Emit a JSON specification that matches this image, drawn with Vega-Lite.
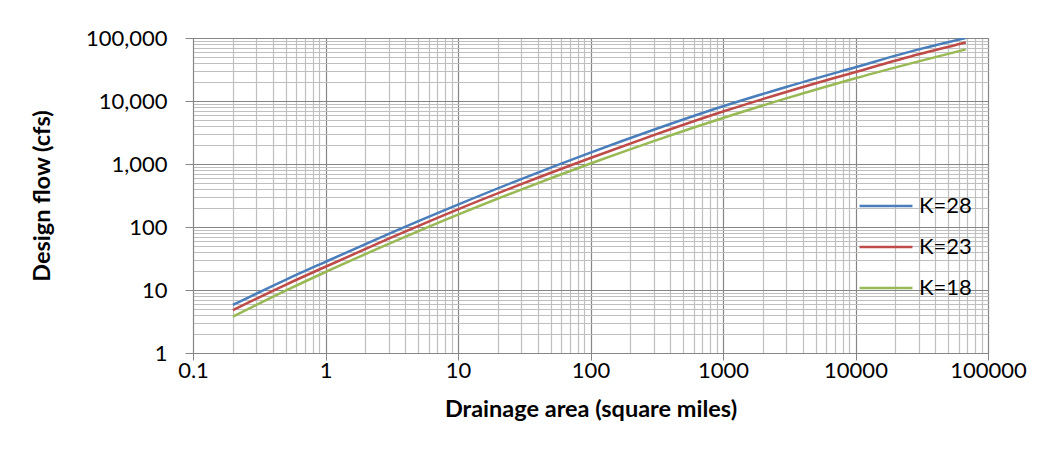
{
  "$schema": "https://vega.github.io/schema/vega-lite/v6.json",
  "autosize": {"type": "none"},
  "width": 795,
  "height": 315,
  "padding": {"left": 193, "top": 38, "right": 60, "bottom": 120},
  "background": "white",
  "config": {
    "font": "Lato",
    "view": {"stroke": "#868686", "strokeWidth": 1},
    "axis": {"labelFont": "Lato", "titleFont": "Lato", "labelColor": "#000", "titleColor": "#000"}
  },
  "data": {
    "values": [
      {"area": 0.2, "flow": 5.8, "K": "K=28"},
      {"area": 0.5, "flow": 14.5, "K": "K=28"},
      {"area": 1, "flow": 28, "K": "K=28"},
      {"area": 3, "flow": 78, "K": "K=28"},
      {"area": 10, "flow": 227, "K": "K=28"},
      {"area": 30, "flow": 577, "K": "K=28"},
      {"area": 100, "flow": 1517, "K": "K=28"},
      {"area": 300, "flow": 3490, "K": "K=28"},
      {"area": 1000, "flow": 8240, "K": "K=28"},
      {"area": 3000, "flow": 16700, "K": "K=28"},
      {"area": 10000, "flow": 34400, "K": "K=28"},
      {"area": 30000, "flow": 65900, "K": "K=28"},
      {"area": 68000, "flow": 100000, "K": "K=28"},
      {"area": 0.2, "flow": 4.8, "K": "K=23"},
      {"area": 0.5, "flow": 12.1, "K": "K=23"},
      {"area": 1, "flow": 23.4, "K": "K=23"},
      {"area": 3, "flow": 65.3, "K": "K=23"},
      {"area": 10, "flow": 191, "K": "K=23"},
      {"area": 30, "flow": 479, "K": "K=23"},
      {"area": 100, "flow": 1245, "K": "K=23"},
      {"area": 300, "flow": 2870, "K": "K=23"},
      {"area": 1000, "flow": 6800, "K": "K=23"},
      {"area": 3000, "flow": 13900, "K": "K=23"},
      {"area": 10000, "flow": 28800, "K": "K=23"},
      {"area": 30000, "flow": 55100, "K": "K=23"},
      {"area": 68000, "flow": 85000, "K": "K=23"},
      {"area": 0.2, "flow": 3.77, "K": "K=18"},
      {"area": 0.5, "flow": 9.75, "K": "K=18"},
      {"area": 1, "flow": 19.3, "K": "K=18"},
      {"area": 3, "flow": 53.8, "K": "K=18"},
      {"area": 10, "flow": 157, "K": "K=18"},
      {"area": 30, "flow": 393, "K": "K=18"},
      {"area": 100, "flow": 1018, "K": "K=18"},
      {"area": 300, "flow": 2310, "K": "K=18"},
      {"area": 1000, "flow": 5370, "K": "K=18"},
      {"area": 3000, "flow": 11000, "K": "K=18"},
      {"area": 10000, "flow": 23000, "K": "K=18"},
      {"area": 30000, "flow": 42600, "K": "K=18"},
      {"area": 68000, "flow": 66000, "K": "K=18"}
    ]
  },
  "mark": {"type": "line", "strokeWidth": 2.5, "interpolate": "monotone", "clip": true},
  "encoding": {
    "x": {
      "field": "area",
      "type": "quantitative",
      "scale": {"type": "log", "domain": [0.1, 100000], "nice": false},
      "axis": {
        "title": "Drainage area (square miles)",
        "titleFontSize": 23.5,
        "titleFontWeight": "bold",
        "titlePadding": 16,
        "labelFontSize": 22,
        "labelPadding": 0,
        "labelFlush": false,
        "labelOverlap": false,
        "values": [0.1,0.2,0.3,0.4,0.5,0.6,0.7,0.8,0.9,1,2,3,4,5,6,7,8,9,10,20,30,40,50,60,70,80,90,100,200,300,400,500,600,700,800,900,1000,2000,3000,4000,5000,6000,7000,8000,9000,10000,20000,30000,40000,50000,60000,70000,80000,90000,100000],
        "labelExpr": "abs(log(datum.value)/LN10 - round(log(datum.value)/LN10)) < 0.001 ? (datum.value < 1 ? '0.1' : format(datum.value, 'd')) : ''",
        "domainColor": "#868686",
        "tickColor": "#868686",
        "tickSize": {"condition": {"test": "abs(log(datum.value)/LN10 - round(log(datum.value)/LN10)) < 0.001", "value": 7}, "value": 0},
        "gridColor": {"condition": {"test": "abs(log(datum.value)/LN10 - round(log(datum.value)/LN10)) < 0.001", "value": "#868686"}, "value": "#bfbfbf"},
        "gridWidth": 1.2,
        "gridOpacity": 1
      }
    },
    "y": {
      "field": "flow",
      "type": "quantitative",
      "scale": {"type": "log", "domain": [1, 100000], "nice": false},
      "axis": {
        "title": "Design flow (cfs)",
        "titleFontSize": 23.5,
        "titleFontWeight": "bold",
        "titlePadding": 31,
        "labelFontSize": 22,
        "labelPadding": 18,
        "labelFlush": false,
        "labelOverlap": false,
        "values": [1,2,3,4,5,6,7,8,9,10,20,30,40,50,60,70,80,90,100,200,300,400,500,600,700,800,900,1000,2000,3000,4000,5000,6000,7000,8000,9000,10000,20000,30000,40000,50000,60000,70000,80000,90000,100000],
        "labelExpr": "abs(log(datum.value)/LN10 - round(log(datum.value)/LN10)) < 0.001 ? format(datum.value, ',') : ''",
        "domainColor": "#868686",
        "tickColor": "#868686",
        "tickSize": {"condition": {"test": "abs(log(datum.value)/LN10 - round(log(datum.value)/LN10)) < 0.001", "value": 8}, "value": 0},
        "gridColor": {"condition": {"test": "abs(log(datum.value)/LN10 - round(log(datum.value)/LN10)) < 0.001", "value": "#868686"}, "value": "#bfbfbf"},
        "gridWidth": 1.2,
        "gridOpacity": 1
      }
    },
    "color": {
      "field": "K",
      "type": "nominal",
      "scale": {"domain": ["K=28", "K=23", "K=18"], "range": ["#4a7ebb", "#be4b48", "#98b954"]},
      "legend": {
        "title": null,
        "orient": "none",
        "legendX": 665,
        "legendY": 140,
        "symbolType": "stroke",
        "symbolSize": 2800,
        "symbolStrokeWidth": 2.5,
        "labelFont": "Lato",
        "labelFontSize": 22,
        "labelColor": "#000",
        "labelOffset": 5,
        "rowPadding": 2,
        "padding": 0
      }
    }
  }
}
